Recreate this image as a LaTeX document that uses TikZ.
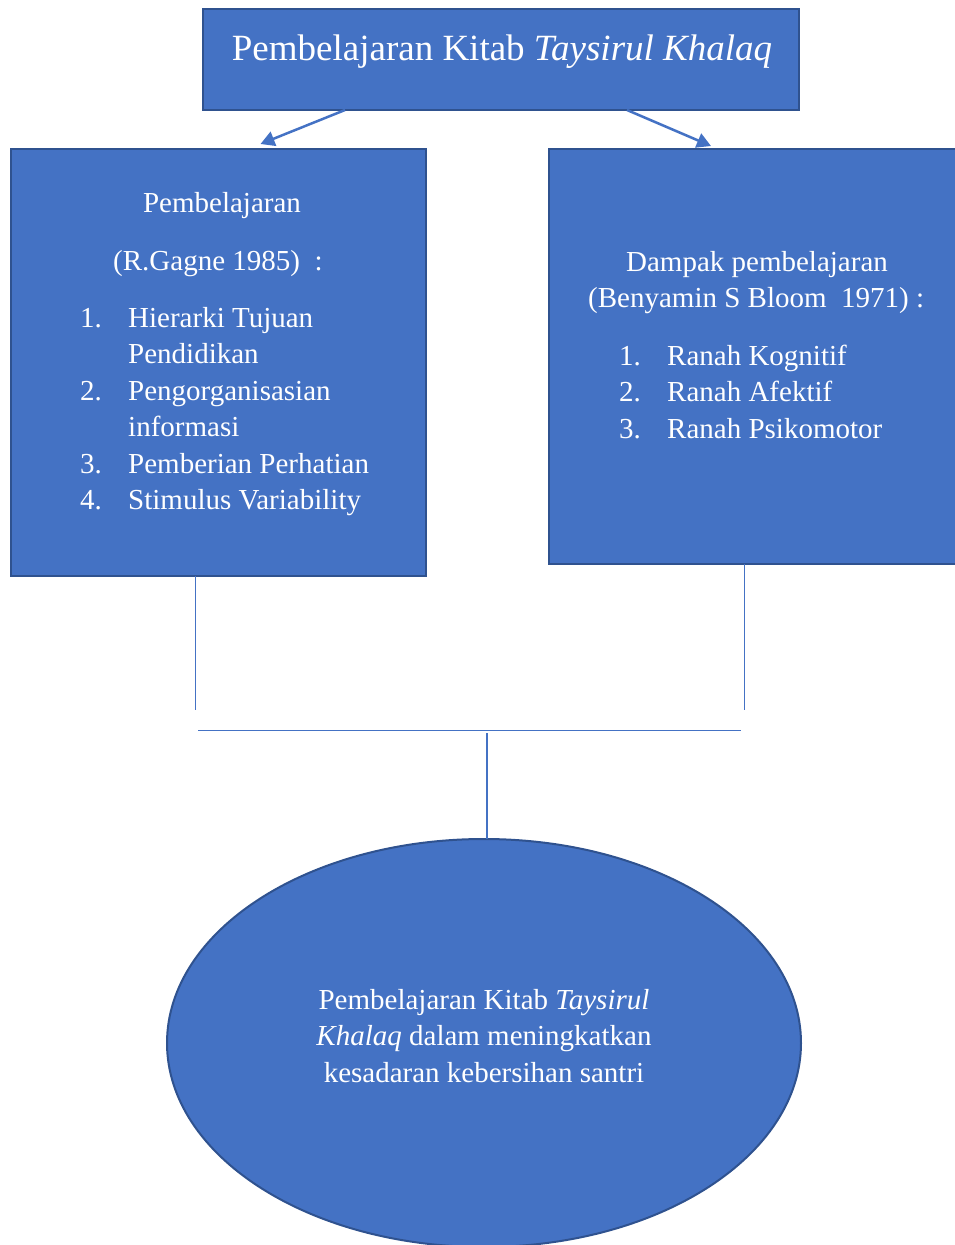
\documentclass[tikz,border=0pt]{standalone}
\usepackage{fontspec}
\setmainfont{Liberation Serif}
\usetikzlibrary{shapes.geometric,arrows.meta}

\definecolor{boxblue}{RGB}{68,114,196}
\definecolor{edgeblue}{RGB}{47,82,143}

\tikzset{
  bluebox/.style={rectangle, fill=boxblue, draw=edgeblue, line width=2pt, inner sep=0pt, outer sep=0pt},
  boxtext/.style={text=white, inner sep=0pt, font=\fontsize{29}{36.5}\selectfont},
  arrowline/.style={draw=boxblue, line width=2.5pt, -{Triangle[length=14pt,width=15pt]}},
  joinline/.style={draw=boxblue, line width=1pt}
}

\begin{document}
\begin{tikzpicture}[x=1pt,y=-1pt]
\useasboundingbox (0,0) rectangle (954,1245);

\node[bluebox, anchor=north west, minimum width=596, minimum height=101] (title) at (203,9) {};
\node[bluebox, anchor=north west, minimum width=415, minimum height=427] (gagne) at (11,149) {};
\node[bluebox, anchor=north west, minimum width=420, minimum height=415] (bloom) at (549,149) {};
\node[ellipse, fill=boxblue, draw=edgeblue, line width=2pt, outer sep=0pt, minimum width=634, minimum height=408] (goal) at (484,1043) {};

% title
\node[boxtext, anchor=base, font=\fontsize{37}{44}\selectfont] (titletext) at (502,60)
  {Pembelajaran Kitab \textit{Taysirul Khalaq}};

% left box
\node[boxtext, anchor=base] (gagnehead) at (222,212) {Pembelajaran};
\node[boxtext, anchor=base west] (gagnesub) at (113,270) {(R.Gagne 1985)\ \ :};
\foreach \num/\item [count=\i from 0] in {1./Hierarki Tujuan, /Pendidikan, 2./Pengorganisasian,
    /informasi, 3./Pemberian Perhatian, 4./Stimulus Variability} {
  \node[boxtext, anchor=base west] (gnum\i) at (80,327+36.5*\i) {\num};
  \node[boxtext, anchor=base west] (gitem\i) at (128,327+36.5*\i) {\item};
}

% right box
\node[boxtext, anchor=base] (bloomhead) at (757,271) {Dampak pembelajaran};
\node[boxtext, anchor=base west] (bloomsub) at (588,307) {(Benyamin S Bloom\ \ 1971) :};
\foreach \item [count=\i] in {Ranah Kognitif, Ranah Afektif, Ranah Psikomotor} {
  \node[boxtext, anchor=base west] (bnum\i) at (619,328.5+36.5*\i) {\i.};
  \node[boxtext, anchor=base west] (bitem\i) at (667,328.5+36.5*\i) {\item};
}

% ellipse
\node[boxtext, align=center, anchor=center] (goaltext) at (484,1036)
  {Pembelajaran Kitab \textit{Taysirul}\\ \textit{Khalaq} dalam meningkatkan\\ kesadaran kebersihan santri};

% connectors
\draw[arrowline] ([xshift=-156pt]title.south) -- ([xshift=42pt,yshift=5pt]gagne.north);
\draw[arrowline] ([xshift=126pt]title.south) -- ([xshift=-48pt,yshift=3pt]bloom.north);

\coordinate (leftend) at (195,710);
\coordinate (rightend) at (744,710);
\coordinate (barleft) at (198,730);
\coordinate (barright) at (741,730);
\coordinate (barmid) at (487,733);

\draw[joinline] (gagne.south -| leftend) -- (leftend);
\draw[joinline] (bloom.south -| rightend) -- (rightend);
\draw[joinline] (barleft) -- (barright);
\draw[joinline, line width=1.5pt] (barmid) -- (goal.north -| barmid);

\end{tikzpicture}
\end{document}
